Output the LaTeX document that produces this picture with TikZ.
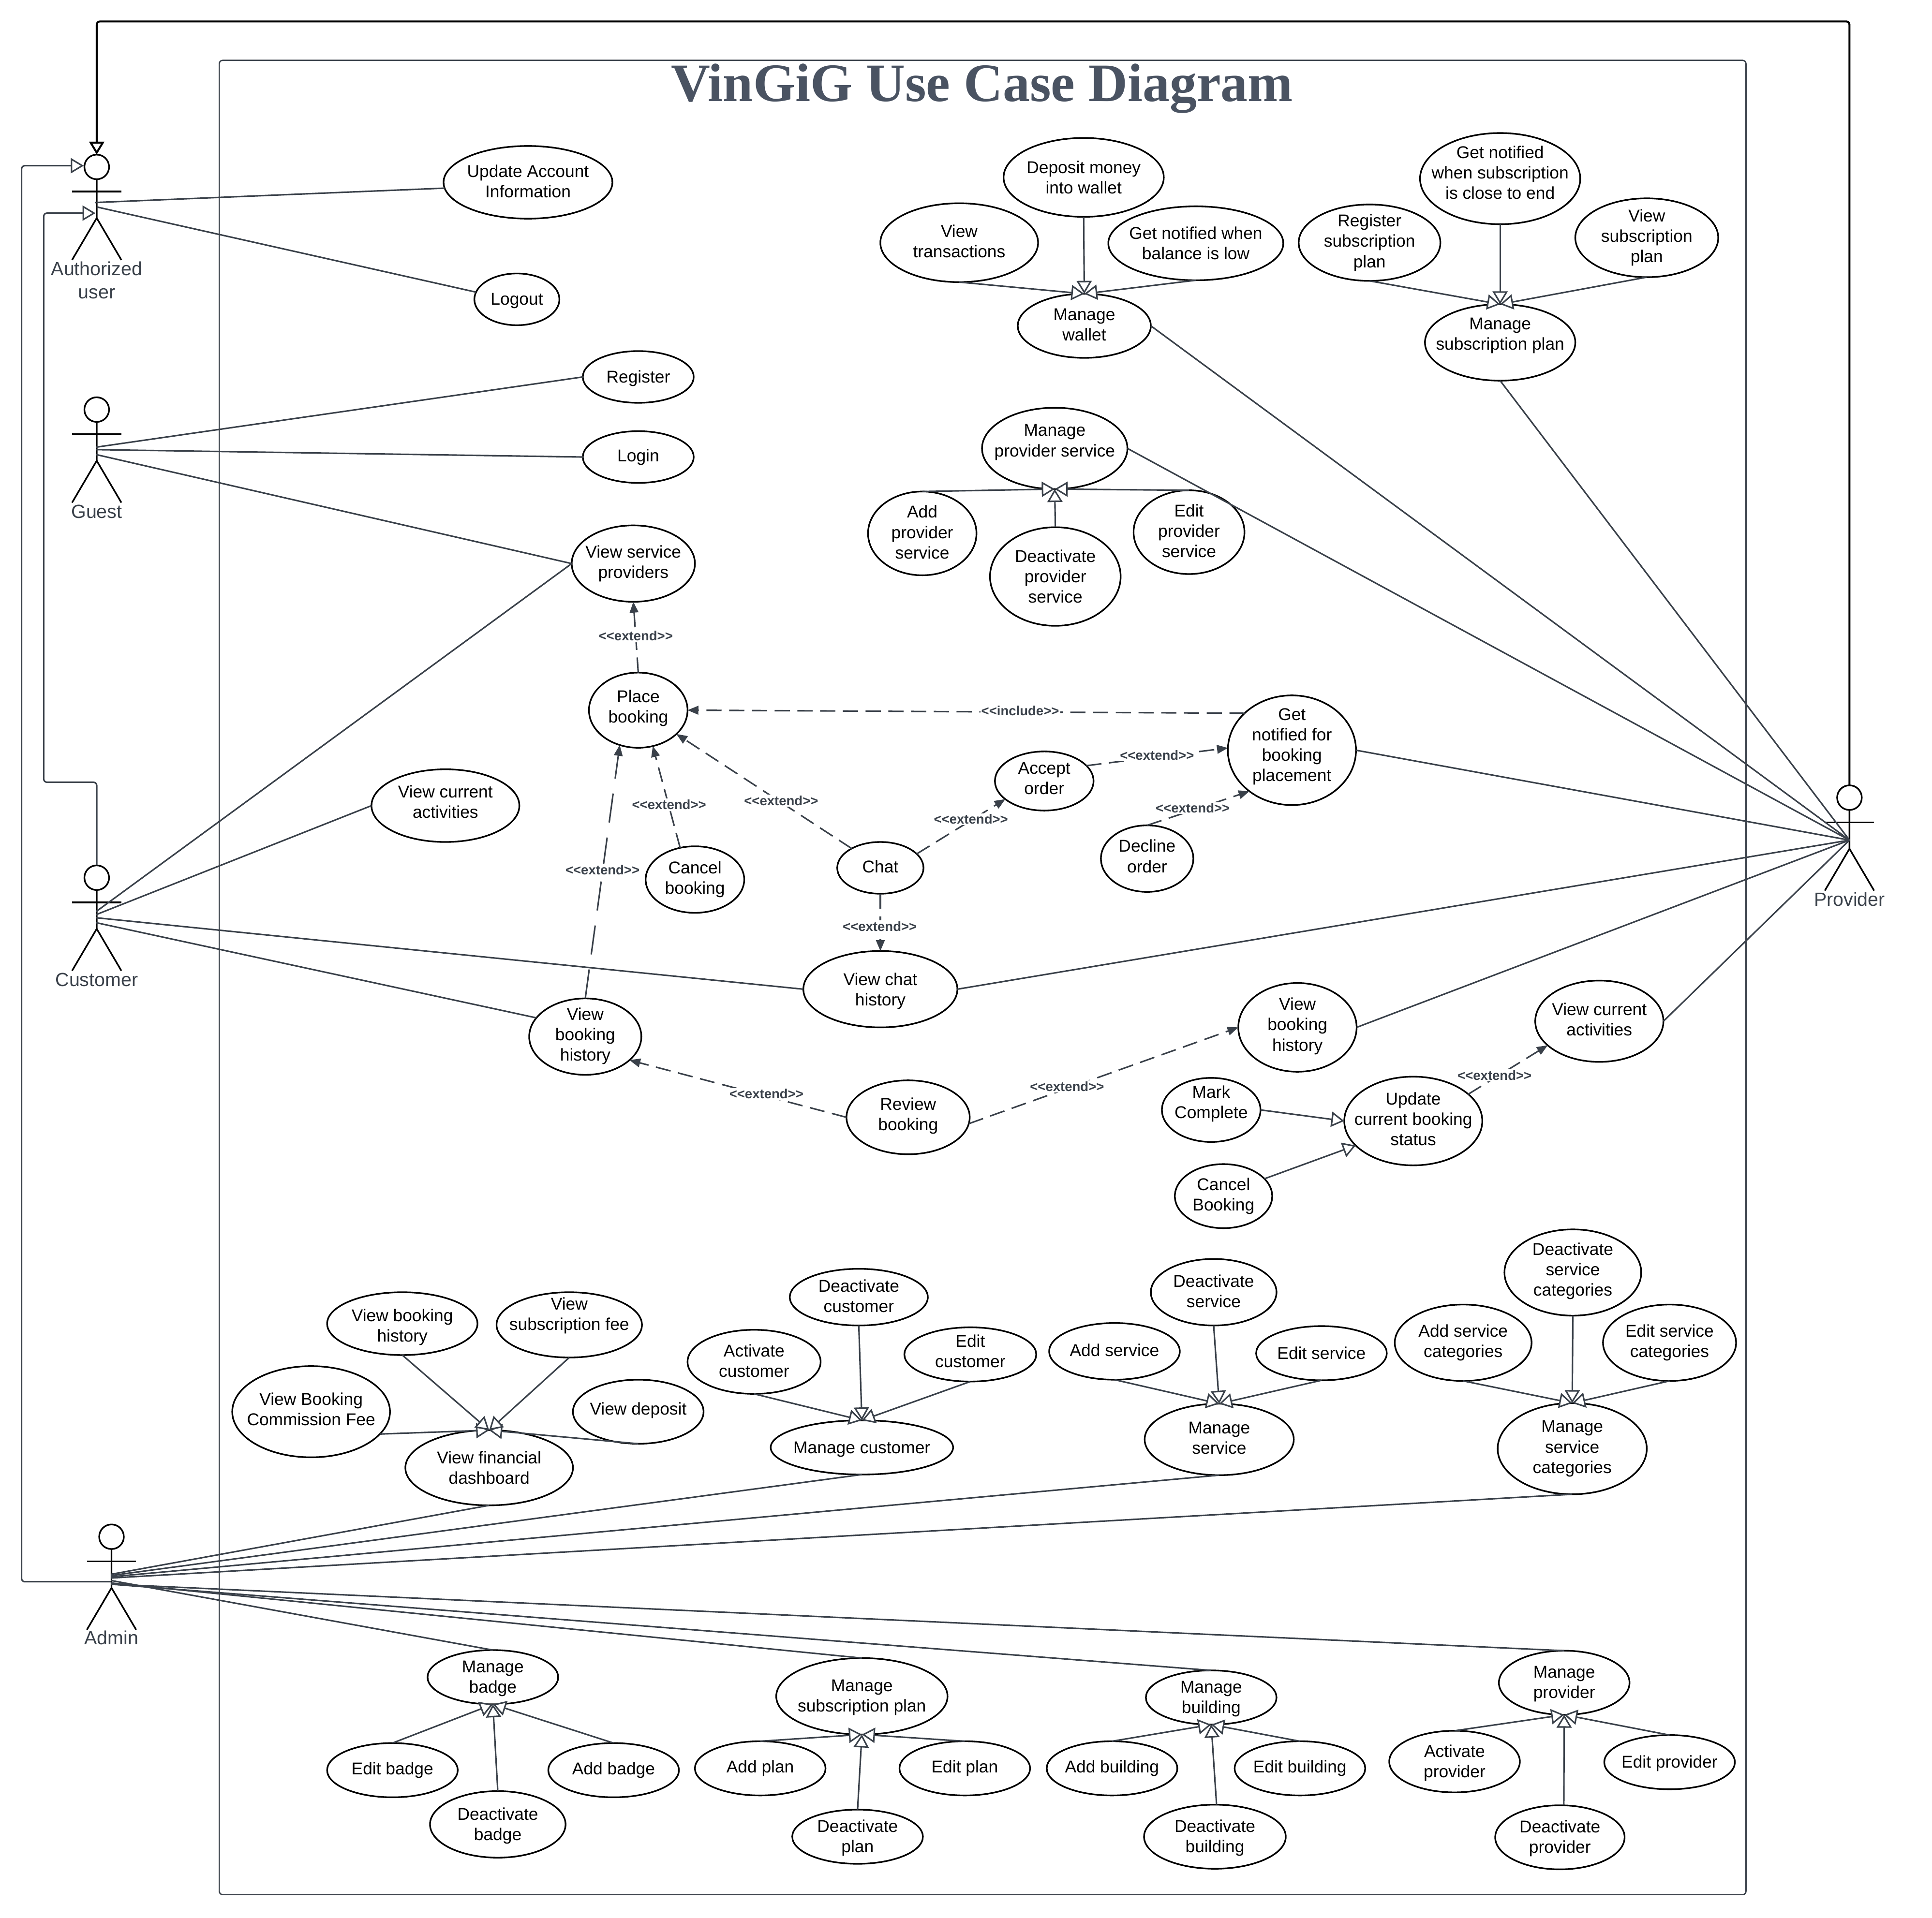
\documentclass[tikz,border=0pt]{standalone}
\usepackage{fontspec}
\setmainfont{Liberation Sans}
\newfontfamily\titlefont{Liberation Serif}
\usetikzlibrary{arrows.meta,shapes.geometric}
\definecolor{ink}{HTML}{3A414A}
\definecolor{titleink}{HTML}{4A5362}
\newcommand\exttxt{<{}<extend>{}>}
\newcommand\inctxt{<{}<include>{}>}
\tikzset{
  uc/.style={ellipse,draw=black,line width=1.5pt,inner sep=0pt,outer sep=0pt},
  uctext/.style={align=center,inner sep=0pt,font=\fontsize{15.8}{18.8}\selectfont},
  conn/.style={draw=ink,line width=1.4pt},
  gen/.style={conn,-{Triangle[open,fill=white,length=12pt,width=14pt]}},
  ext/.style={conn,dash pattern=on 14pt off 7pt,-{Triangle[length=10pt,width=8pt]}},
  extlong/.style={conn,dash pattern=on 27pt off 14pt,-{Triangle[length=10pt,width=8pt]}},
  extlabel/.style={fill=white,inner sep=1pt,text=ink,font=\bfseries\fontsize{12.3}{14}\selectfont},
  actorline/.style={draw=black,line width=1.5pt},
  actorhead/.style={circle,draw=black,line width=1.5pt,inner sep=0pt,outer sep=0pt,minimum size=0.8cm},
  actortext/.style={align=center,inner sep=0pt,text=ink,font=\fontsize{17.6}{21.6}\selectfont},
}
\newcommand\uc[7][0]{\node[uc,minimum width=#5*0.08cm,minimum height=#6*0.08cm] (#2) at (#3,#4) {};\node[uctext] (#2t) at (#3,#4+#1) {#7};}
\newcommand\actor[5]{%
  \node[actorhead] (#1) at (#2,#3) {};
  \draw[actorline] (#1.south) -- (#2,#3+41.5) -- (#2-20,#3+75.5);
  \draw[actorline] (#2,#3+41.5) -- (#2+20,#3+75.5);
  \draw[actorline] (#2-20,#3+20) -- (#2+20,#3+20);
  \node[actortext] (#1t) at (#2,#4) {#5};}
\begin{document}
\begin{tikzpicture}[x=0.04cm,y=-0.04cm]
\useasboundingbox (0,0) rectangle (1568,1557);
\draw[draw=ink,line width=1.2pt,rounded corners=3pt] (178,49) rectangle (1417,1538);
\node[inner sep=0pt,text=titleink,font=\titlefont\bfseries\fontsize{50}{56}\selectfont] (title) at (797,72) {VinGiG Use Case Diagram};
% actors
\actor{auth}{78.5}{135.5}{227.5}{Authorized\\user}
\actor{guest}{78.5}{332.5}{415.5}{Guest}
\actor{cust}{78.5}{712.5}{795.5}{Customer}
\actor{admin}{90.5}{1247.5}{1329.5}{Admin}
\actor{prov}{1501}{647.5}{730}{Provider}
% use cases
\uc[-1]{upd}{428.5}{148}{68.5}{29.5}{Update Account\\Information}
\uc[1]{logout}{419.5}{243}{34.5}{21}{Logout}
\uc[1]{reg}{518}{306}{45}{21}{Register}
\uc{login}{518}{371}{45}{21}{Login}
\uc{vsp}{514}{457.5}{50}{31}{View service\\providers}
\uc[-1.5]{place}{518}{576.5}{40}{30.5}{Place\\booking}
\uc{cancelb}{564}{714}{40}{27}{Cancel\\booking}
\uc[-1]{chat}{714.5}{704.5}{35}{21}{Chat}
\uc[1.5]{vch}{714.5}{803}{62.5}{31}{View chat\\history}
\uc[-0.5]{vbh}{475}{841.5}{45.5}{31}{View\\booking\\history}
\uc[-1]{review}{737}{907}{50}{30}{Review\\booking}
\uc[-3]{vca}{361.5}{654}{60}{29.5}{View current\\activities}
\uc[-2]{accept}{847.5}{634}{40}{24}{Accept\\order}
\uc[-3]{getn}{1048.5}{609}{52}{44.5}{Get\\notified for\\booking\\placement}
\uc[-2]{decline}{931}{697}{37.5}{27}{Decline\\order}
\uc[-1]{vbhp}{1053}{834}{48}{36}{View\\booking\\history}
\uc[-1.5]{vcap}{1298}{829}{52}{33}{View current\\activities}
\uc[-1.5]{ustatus}{1147}{910}{56}{36}{Update\\current booking\\status}
\uc[-5]{mark}{983}{901}{40}{26}{Mark\\Complete}
\uc{cancelB}{993}{971}{39.5}{26}{Cancel\\Booking}
\uc{deposit}{879.5}{144}{65}{32}{Deposit money\\into wallet}
\uc[-1]{vtrans}{778.5}{197}{64}{32}{View\\transactions}
\uc{lowbal}{970.5}{197.5}{71}{30}{Get notified when\\balance is low}
\uc[-1]{wallet}{880}{264.5}{54}{26}{Manage\\wallet}
\uc[-5]{subend}{1217.5}{145}{65}{37}{Get notified\\when subscription\\is close to end}
\uc{regsub}{1111.5}{197}{57.5}{31}{Register\\subscription\\plan}
\uc{viewsub}{1336.5}{193}{58}{32}{View\\subscription\\plan}
\uc[-5.5]{mansub}{1217.5}{278}{61}{31}{Manage\\subscription plan}
\uc[-5]{mps}{856}{364}{59}{33}{Manage\\provider service}
\uc[-1]{aps}{748.5}{433}{44}{34}{Add\\provider\\service}
\uc{dps}{856.5}{468}{53}{40}{Deactivate\\provider\\service}
\uc[-1]{eps}{965}{432}{45}{34}{Edit\\provider\\service}
\uc[3]{fvbh}{326.5}{1074.5}{61}{25.5}{View booking\\history}
\uc[-7.5]{fsub}{462}{1075.5}{59}{26.5}{View\\subscription fee}
\uc[-2]{fcom}{252.5}{1146}{64}{37}{View Booking\\Commission Fee}
\uc[-1]{fdep}{518}{1146}{53}{26}{View deposit}
\uc{fin}{397}{1191.5}{68}{30.5}{View financial\\dashboard}
\uc[-1]{dcust}{697}{1053}{56}{23}{Deactivate\\customer}
\uc[-1]{acust}{612}{1105.5}{54}{26}{Activate\\customer}
\uc[-2.5]{ecust}{787.5}{1099.5}{53.5}{22}{Edit\\customer}
\uc[1.5]{mcust}{699.5}{1175}{74}{22}{Manage customer}
\uc[-1]{dserv}{985}{1049}{51}{27}{Deactivate\\service}
\uc[-1]{aserv}{904.5}{1097}{53}{23}{Add service}
\uc{eserv}{1072.5}{1098.5}{53}{22}{Edit service}
\uc[-1]{mserv}{989.5}{1168.5}{60.5}{29}{Manage\\service}
\uc[-1]{dcat}{1276.5}{1033}{55.5}{35}{Deactivate\\service\\categories}
\uc{acat}{1187.5}{1090}{55.5}{31}{Add service\\categories}
\uc{ecat}{1355}{1090}{54}{31}{Edit service\\categories}
\uc{mcat}{1276}{1176}{60.5}{37}{Manage\\service\\categories}
\uc[1]{mbadge}{400}{1361.5}{53}{22}{Manage\\badge}
\uc{ebadge}{318.5}{1437}{53}{22}{Edit badge}
\uc{abadge}{498}{1437}{53}{22}{Add badge}
\uc[1]{dbadge}{404}{1481}{55}{27}{Deactivate\\badge}
\uc[1]{mplan}{699.5}{1377}{69.5}{31}{Manage\\subscription plan}
\uc{aplan}{617}{1435.5}{53}{22}{Add plan}
\uc{eplan}{783}{1435.5}{53}{22}{Edit plan}
\uc[1]{dplan}{696}{1491}{53}{22}{Deactivate\\plan}
\uc[1]{mbuild}{983}{1378}{53}{22}{Manage\\building}
\uc{abuild}{902.5}{1435.5}{53}{22}{Add building}
\uc{ebuild}{1055}{1435.5}{53}{22}{Edit building}
\uc[1]{dbuild}{986}{1491}{57.5}{26}{Deactivate\\building}
\uc[1]{mprov}{1269.5}{1366}{53}{26}{Manage\\provider}
\uc[1]{aprov}{1180.5}{1430}{53}{25}{Activate\\provider}
\uc[1]{eprov}{1355}{1430.5}{53}{22}{Edit provider}
\uc[1]{dprov}{1266}{1491.5}{52.5}{26}{Deactivate\\provider}
% hubs
\coordinate (h1) at (77,164.4);
\coordinate (h2) at (78.5,168);
\coordinate (g1) at (78,363);
\coordinate (g2) at (78,365);
\coordinate (g3) at (78,369);
\coordinate (c1) at (78,740);
\coordinate (c2) at (78,742.5);
\coordinate (c3) at (78,745);
\coordinate (c4) at (78,749);
\coordinate (p) at (1501,682);
\coordinate (a1) at (90,1278);
\coordinate (a2) at (90,1279);
\coordinate (a3) at (90,1280);
\coordinate (a4) at (90,1281);
\coordinate (a5) at (90,1283);
\coordinate (a6) at (90,1285);
\coordinate (a7) at (90,1286);
\coordinate (adminhub) at (90,1284);
\coordinate (authleft) at (68,134.5);
\coordinate (authbody) at (77.5,173);
% actor generalizations
\draw[draw=black,line width=1.8pt,rounded corners=3pt,-{Triangle[open,fill=white,length=12pt,width=14pt]}] (prov.north) -- (1501,17.4) -- (78.5,17.4) -- (auth.north);
\draw[gen,rounded corners=3pt] (adminhub) -- (17.5,1284) -- (17.5,134.5) -- (authleft);
\draw[gen,rounded corners=3pt] (cust.north) -- (78.5,635) -- (35.5,635) -- (35.5,173) -- (authbody);
% associations
\draw[conn] (h1) -- (upd.184);
\draw[conn] (h2) -- (logout.170);
\draw[conn] (g1) -- (reg.west);
\draw[conn] (g2) -- (login.west);
\draw[conn] (g3) -- (vsp.west);
\draw[conn] (c1) -- (vsp.west);
\draw[conn] (c2) -- (vca.west);
\draw[conn] (c3) -- (vch.west);
\draw[conn] (c4) -- (vbh.159);
\draw[conn] (wallet.east) -- (p);
\draw[conn] (mps.east) -- (p);
\draw[conn] (mansub.south) -- (p);
\draw[conn] (getn.east) -- (p);
\draw[conn] (vch.east) -- (p);
\draw[conn] (vbhp.east) -- (p);
\draw[conn] (vcap.east) -- (p);
\draw[conn] (fin.south) -- (a1);
\draw[conn] (mcust.south) -- (a2);
\draw[conn] (mserv.south) -- (a3);
\draw[conn] (mcat.south) -- (a4);
\draw[conn] (mbadge.north) -- (a5);
\draw[conn] (mplan.north) -- (a6);
\draw[conn] (mbuild.north) -- (a7);
\draw[conn] (mprov.north) -- (a7);
% generalizations
\draw[gen] (vtrans.south) -- (wallet.north);
\draw[gen] (lowbal.south) -- (wallet.north);
\draw[gen] (deposit.south) -- (wallet.north);
\draw[gen] (regsub.south) -- (mansub.north);
\draw[gen] (viewsub.south) -- (mansub.north);
\draw[gen] (subend.south) -- (mansub.north);
\draw[gen] (aps.north) -- (mps.south);
\draw[gen] (eps.north) -- (mps.south);
\draw[gen] (dps.north) -- (mps.south);
\draw[gen] (mark.east) -- (ustatus.west);
\draw[gen] (cancelB.23) -- (ustatus.203);
\draw[gen] (fcom.342) -- (fin.north);
\draw[gen] (fdep.south) -- (fin.north);
\draw[gen] (fvbh.south) -- (fin.north);
\draw[gen] (fsub.south) -- (fin.north);
\draw[gen] (acust.south) -- (mcust.north);
\draw[gen] (ecust.south) -- (mcust.north);
\draw[gen] (dcust.south) -- (mcust.north);
\draw[gen] (aserv.south) -- (mserv.north);
\draw[gen] (eserv.south) -- (mserv.north);
\draw[gen] (dserv.south) -- (mserv.north);
\draw[gen] (acat.south) -- (mcat.north);
\draw[gen] (ecat.south) -- (mcat.north);
\draw[gen] (dcat.south) -- (mcat.north);
\draw[gen] (ebadge.north) -- (mbadge.south);
\draw[gen] (abadge.north) -- (mbadge.south);
\draw[gen] (dbadge.north) -- (mbadge.south);
\draw[gen] (aplan.north) -- (mplan.south);
\draw[gen] (eplan.north) -- (mplan.south);
\draw[gen] (dplan.north) -- (mplan.south);
\draw[gen] (abuild.north) -- (mbuild.south);
\draw[gen] (ebuild.north) -- (mbuild.south);
\draw[gen] (dbuild.87) -- (mbuild.south);
\draw[gen] (aprov.north) -- (mprov.south);
\draw[gen] (eprov.north) -- (mprov.south);
\draw[gen] (dprov.83) -- (mprov.south);
% extend / include
\draw[ext] (place.north) -- (vsp.south);
\draw[ext] (getn.142) -- (place.east);
\draw[ext] (chat.146) -- (place.328);
\draw[ext] (cancelb.115) -- (place.292);
\draw[extlong] (vbh.north) -- (place.242);
\draw[ext] (chat.south) -- (vch.north);
\draw[ext] (chat.21) -- (accept.205);
\draw[ext] (accept.20) -- (getn.178);
\draw[ext] (decline.north) -- (getn.224);
\draw[ext] (review.west) -- (vbh.332);
\draw[ext] (review.354) -- (vbhp.west);
\draw[ext] (ustatus.26) -- (vcap.205);
% labels
\node[extlabel] (l1) at (516,516) {\exttxt};
\node[extlabel] (l2) at (828,577) {\inctxt};
\node[extlabel] (l3) at (634,650) {\exttxt};
\node[extlabel] (l4) at (543,653) {\exttxt};
\node[extlabel] (l5) at (489,706) {\exttxt};
\node[extlabel] (l6) at (714,752) {\exttxt};
\node[extlabel] (l7) at (788,665) {\exttxt};
\node[extlabel] (l8) at (939,613) {\exttxt};
\node[extlabel] (l9) at (968,656) {\exttxt};
\node[extlabel] (l10) at (622,888) {\exttxt};
\node[extlabel] (l11) at (866,882) {\exttxt};
\node[extlabel] (l12) at (1213,873) {\exttxt};
\end{tikzpicture}
\end{document}
